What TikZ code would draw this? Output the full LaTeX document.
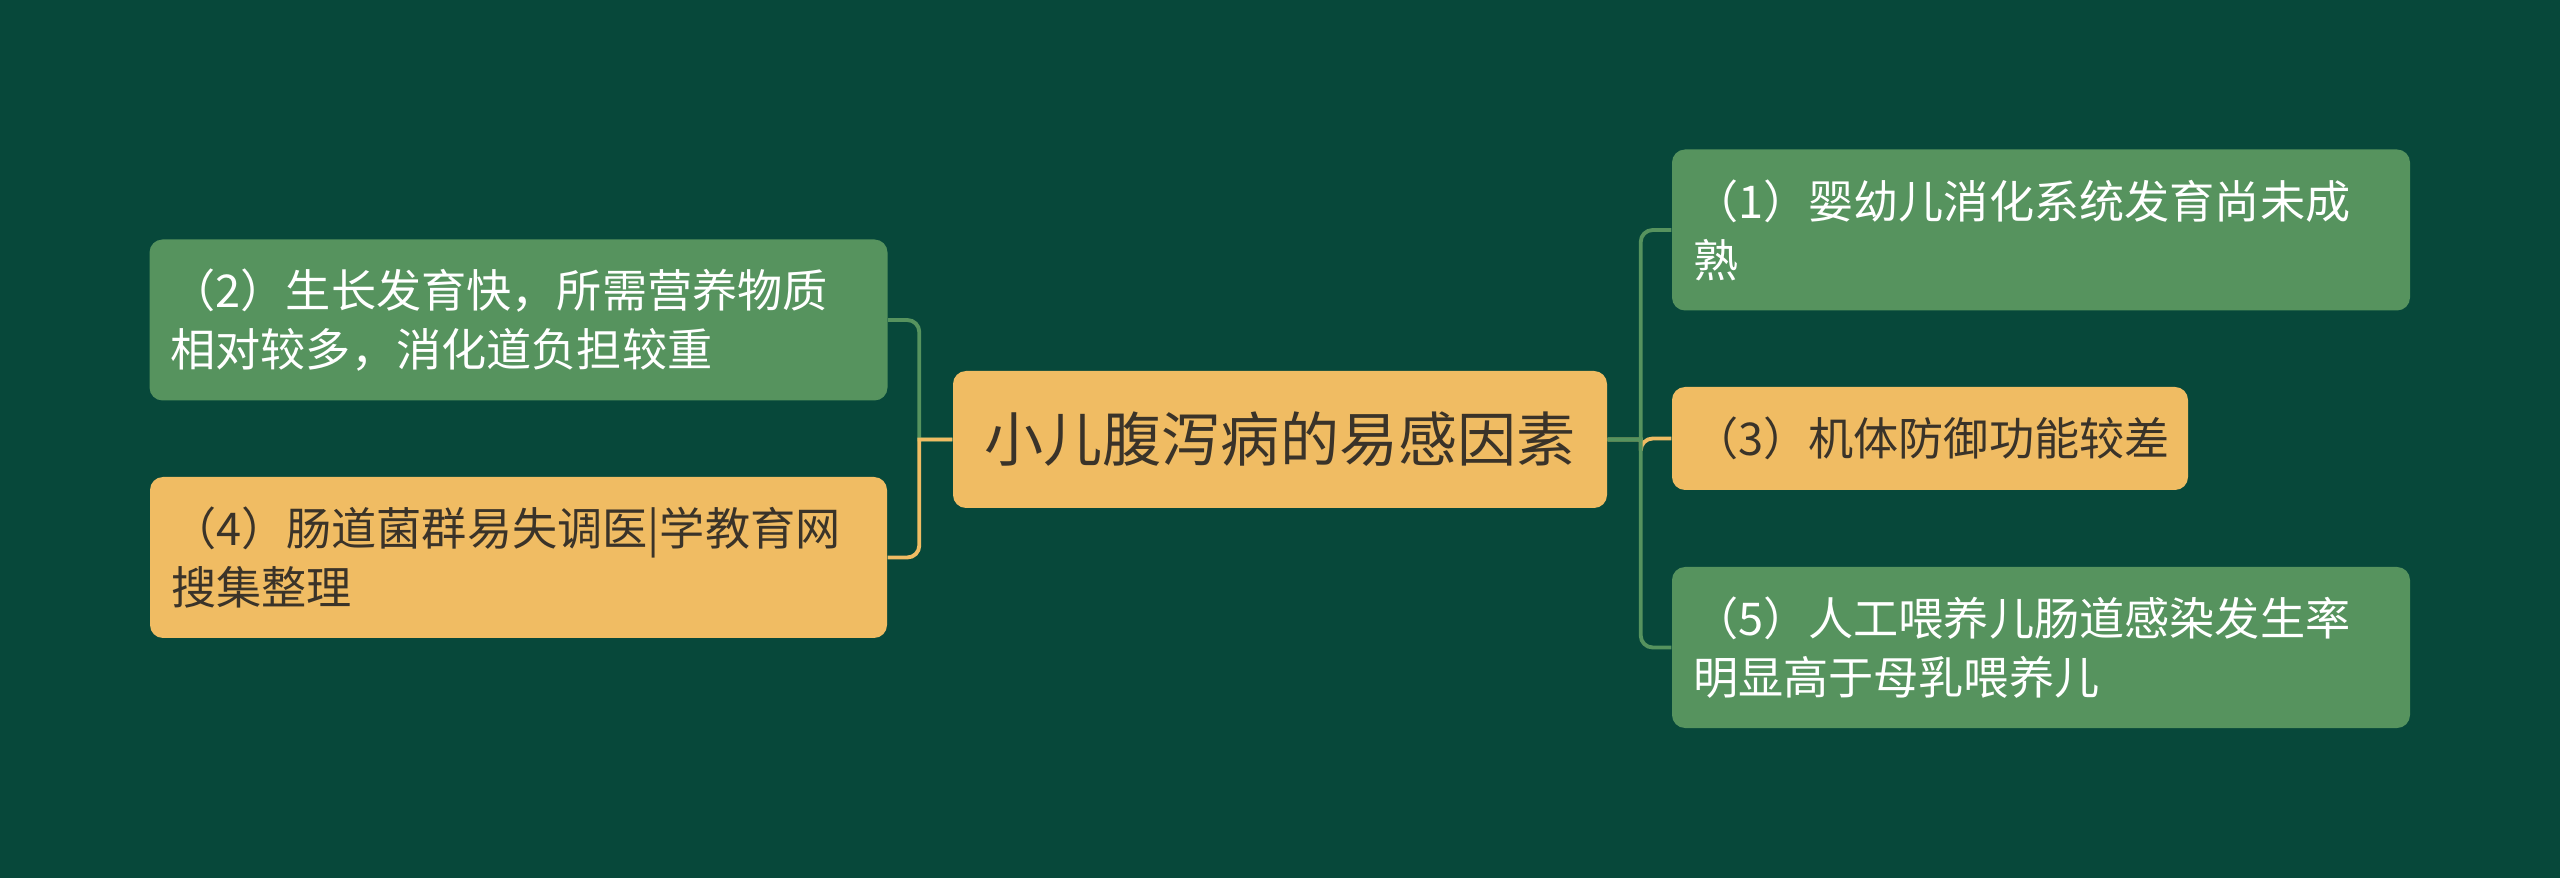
\documentclass[tikz,border=0pt]{standalone}
\usepackage{fontspec}
\newfontfamily\cjk{Noto Sans CJK SC}
\definecolor{bg}{HTML}{07483A}
\definecolor{leaf}{HTML}{56935E}
\definecolor{gold}{HTML}{F0BC63}
\definecolor{ink}{HTML}{3A3329}
\tikzset{
  box/.style={rounded corners=0.13cm, inner xsep=0.21cm, inner ysep=0pt, align=left,
    font=\cjk\fontsize{12.85pt}{16.8pt}\selectfont},
  greenbox/.style={box, fill=leaf, text=white, minimum height=1.61cm, text width=6.96cm},
  goldbox/.style={box, fill=gold, text=ink, minimum height=#1, text width=6.95cm},
  root/.style={rounded corners=0.13cm, fill=gold, text=ink, minimum width=6.54cm,
    minimum height=1.37cm, font=\cjk\fontsize{16.8pt}{20pt}\selectfont},
  link/.style={line width=1.1pt, draw=#1}
}
\begin{document}
\begin{tikzpicture}
\fill[bg] (0,0) rectangle (25.6,-8.78);
\useasboundingbox (0,0) rectangle (25.6,-8.78);
\node[root] (c) at (12.80,-4.395) {小儿腹泻病的易感因素};
\node[greenbox] (n2) at (5.185,-3.20) {（2）生长发育快，所需营养物质\\相对较多，消化道负担较重};
\node[goldbox=1.61cm] (n4) at (5.185,-5.575) {（4）肠道菌群易失调医|学教育网\\搜集整理};
\node[greenbox] (n1) at (20.41,-2.30) {（1）婴幼儿消化系统发育尚未成\\熟};
\node[goldbox=1.03cm, text width=4.74cm] (n3) at (19.30,-4.385) {（3）机体防御功能较差};
\node[greenbox] (n5) at (20.41,-6.475) {（5）人工喂养儿肠道感染发生率\\明显高于母乳喂养儿};
\draw[link=leaf] (c.west) -- ++(-0.33,0) [rounded corners=0.12cm] |- (n2.east);
\draw[link=gold] (c.west) -- ++(-0.33,0) [rounded corners=0.12cm] |- (n4.east);
\draw[link=gold] (c.east) -- ++(0.33,0) [rounded corners=0.12cm] |- (n3.west);
\draw[link=leaf] (c.east) -- ++(0.33,0) [rounded corners=0.12cm] |- (n1.west);
\draw[link=leaf] (c.east) -- ++(0.33,0) [rounded corners=0.12cm] |- (n5.west);
\end{tikzpicture}
\end{document}
